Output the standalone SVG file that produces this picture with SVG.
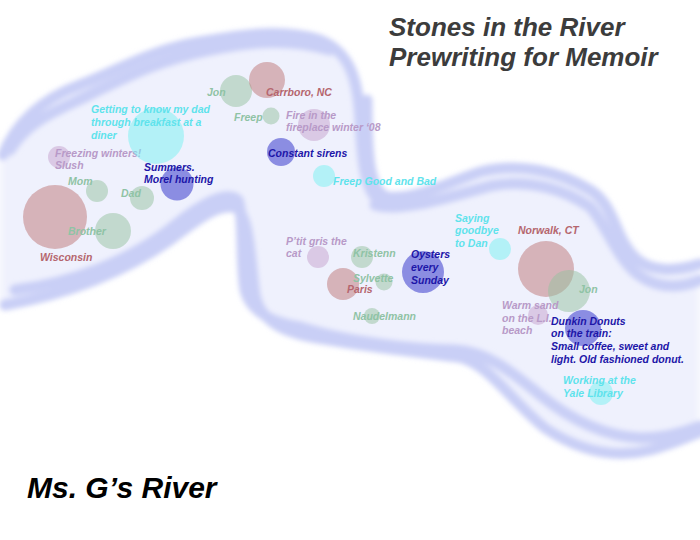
<svg xmlns="http://www.w3.org/2000/svg" width="700" height="540" viewBox="0 0 700 540">
<defs>
<filter id="soft" x="-10%" y="-10%" width="120%" height="120%"><feGaussianBlur stdDeviation="2.8"/></filter>
<filter id="softer" x="-10%" y="-10%" width="120%" height="120%"><feGaussianBlur stdDeviation="4"/></filter>
</defs>
<style>
.bank{fill:none;stroke:#c9cff6;stroke-width:11;stroke-linecap:round;stroke-linejoin:round}
.lbl{font-family:"Liberation Sans",Arial,sans-serif;font-style:italic;font-weight:bold;font-size:10.5px}
.r{fill:#b5666e}.g{fill:#8fc3a5}.p{fill:#b89ac8}.c{fill:#5fe3ec}.b{fill:#1d16a8}
.cr{fill:rgb(190,118,118);opacity:.5}.cg{fill:rgb(150,194,160);opacity:.5}.cp{fill:rgb(198,162,205);opacity:.5}.cc{fill:rgb(120,242,241);opacity:.5}.cb{fill:rgb(40,42,200);opacity:.5}
.title{font-family:"Liberation Sans",Arial,sans-serif;font-style:italic;font-weight:bold;fill:#3c3c3c;font-size:26px}
</style>
<rect width="700" height="540" fill="#ffffff"/>
<g id="river">
<path filter="url(#softer)" fill="#eff1fd" d="M0,160 C20,120 60,95 110,70 C160,45 230,30 300,35 C340,40 360,70 362,120 C364,160 365,200 385,200 C420,198 460,175 510,168 C560,168 600,190 615,215 C625,240 640,265 670,272 L700,265 L700,432 C660,448 620,460 580,445 C540,425 510,390 470,362 C420,352 350,345 300,330 C265,320 250,300 250,270 C248,240 245,210 232,207 C210,205 190,220 170,240 C120,275 60,300 0,305 Z"/>
<g filter="url(#soft)">
<path class="bank" d="M3,155 C15,125 40,100 80,85 C120,70 150,50 200,42 C240,35 280,28 320,40 C350,52 358,80 360,120 C362,160 365,200 385,203"/>
<path class="bank" d="M10,150 C30,118 60,110 95,92 C130,75 160,60 210,50 C250,42 290,38 330,50"/>
<path class="bank" d="M367,100 C367,150 368,192 388,197 C415,200 445,184 480,172 C520,162 560,172 590,190 C615,205 615,240 635,258 C650,272 675,272 700,264"/>
<path class="bank" d="M375,205 C400,212 440,200 490,186 C530,178 565,190 590,207 C605,222 618,262 640,276 C660,290 685,287 700,280"/>
<path class="bank" d="M5,305 C60,295 120,275 170,240 C200,218 215,205 235,207 C250,215 250,260 255,295 C262,325 290,335 330,340 C370,347 420,352 460,357 C490,365 510,400 545,428 C575,448 610,460 650,450 C670,445 690,436 700,432"/>
<path class="bank" d="M15,290 C70,283 130,262 175,225 C200,205 225,190 238,200 C244,215 240,260 245,290 C250,310 270,322 300,327 C350,343 420,350 455,350 C490,352 515,375 540,395 C565,415 600,436 640,438 C665,438 685,432 700,426"/>
</g>
</g>
<g id="title"><text class="title" x="389" y="36">Stones in the River</text><text class="title" x="389" y="66">Prewriting for Memoir</text></g>
<g id="node-wisconsin"><circle class="cr" cx="55" cy="217" r="32"/><text class="lbl r" x="40" y="261">Wisconsin</text></g>
<g id="node-brother"><circle class="cg" cx="113" cy="231" r="18"/><text class="lbl g" x="68" y="235">Brother</text></g>
<g id="node-mom"><circle class="cg" cx="97" cy="191" r="11"/><text class="lbl g" x="68" y="185">Mom</text></g>
<g id="node-dad"><circle class="cg" cx="142" cy="198" r="12"/><text class="lbl g" x="121" y="197">Dad</text></g>
<g id="node-freezing"><circle class="cp" cx="59" cy="157" r="11"/><text class="lbl p" x="55" y="157">Freezing winters!</text><text class="lbl p" x="55" y="169">Slush</text></g>
<g id="node-getting"><circle class="cc" cx="156" cy="136" r="28"/><text class="lbl c" x="91" y="113">Getting to know my dad</text><text class="lbl c" x="91" y="126">through breakfast at a</text><text class="lbl c" x="91" y="138.5">diner</text></g>
<g id="node-summers"><circle class="cb" cx="177" cy="184" r="16.5"/><text class="lbl b" x="144" y="170.5">Summers.</text><text class="lbl b" x="144" y="183">Morel hunting</text></g>
<g id="node-jon1"><circle class="cg" cx="236" cy="91" r="16"/><text class="lbl g" x="207" y="95.5">Jon</text></g>
<g id="node-carrboro"><circle class="cr" cx="267" cy="80" r="18"/><text class="lbl r" x="266" y="95.5">Carrboro, NC</text></g>
<g id="node-freep"><circle class="cg" cx="271" cy="116" r="8.5"/><text class="lbl g" x="234" y="121">Freep</text></g>
<g id="node-fire"><circle class="cp" cx="314" cy="125" r="16"/><text class="lbl p" x="286" y="118.5">Fire in the</text><text class="lbl p" x="286" y="131">fireplace winter ‘08</text></g>
<g id="node-sirens"><circle class="cb" cx="281" cy="152" r="14"/><text class="lbl b" x="268" y="156.5">Constant sirens</text></g>
<g id="node-freepgood"><circle class="cc" cx="324" cy="176" r="11"/><text class="lbl c" x="333" y="185">Freep Good and Bad</text></g>
<g id="node-ptit"><circle class="cp" cx="318" cy="257" r="11"/><text class="lbl p" x="286" y="244.5">P’tit gris the</text><text class="lbl p" x="286" y="257">cat</text></g>
<g id="node-kristenn"><circle class="cg" cx="362" cy="257" r="11"/><text class="lbl g" x="353" y="257">Kristenn</text></g>
<g id="node-paris"><circle class="cr" cx="343" cy="284" r="16"/><text class="lbl r" x="347" y="292.5">Paris</text></g>
<g id="node-sylvette"><circle class="cg" cx="384" cy="282" r="8.5"/><text class="lbl g" x="353" y="282">Sylvette</text></g>
<g id="node-naudelmann"><circle class="cg" cx="372" cy="316" r="8"/><text class="lbl g" x="353" y="320">Naudelmann</text></g>
<g id="node-oysters"><circle class="cb" cx="423" cy="272" r="21"/><text class="lbl b" x="411" y="258">Oysters</text><text class="lbl b" x="411" y="270.5">every</text><text class="lbl b" x="411" y="283.5">Sunday</text></g>
<g id="node-saying"><circle class="cc" cx="500" cy="249" r="11"/><text class="lbl c" x="455" y="221.5">Saying</text><text class="lbl c" x="455" y="234">goodbye</text><text class="lbl c" x="455" y="246.5">to Dan</text></g>
<g id="node-norwalk"><circle class="cr" cx="546" cy="269" r="28"/><text class="lbl r" x="518" y="234">Norwalk, CT</text></g>
<g id="node-jon2"><circle class="cg" cx="569" cy="291" r="21"/><text class="lbl g" x="579" y="292.5">Jon</text></g>
<g id="node-warm"><circle class="cp" cx="538" cy="315" r="10"/><text class="lbl p" x="502" y="309">Warm sand</text><text class="lbl p" x="502" y="321.5">on the L.I.</text><text class="lbl p" x="502" y="334">beach</text></g>
<g id="node-dunkin"><circle class="cb" cx="583" cy="328" r="18"/><text class="lbl b" x="551" y="324.5">Dunkin Donuts</text><text class="lbl b" x="551" y="337">on the train:</text><text class="lbl b" x="551" y="350">Small coffee, sweet and</text><text class="lbl b" x="551" y="362.5">light. Old fashioned donut.</text></g>
<g id="node-yale"><circle class="cc" cx="601" cy="393" r="12"/><text class="lbl c" x="563" y="384">Working at the</text><text class="lbl c" x="563" y="396.5">Yale Library</text></g>
<g id="caption"><text x="27" y="498" font-family="'Liberation Sans',Arial,sans-serif" font-style="italic" font-weight="bold" font-size="30" fill="#000">Ms. G’s River</text></g>
</svg>
